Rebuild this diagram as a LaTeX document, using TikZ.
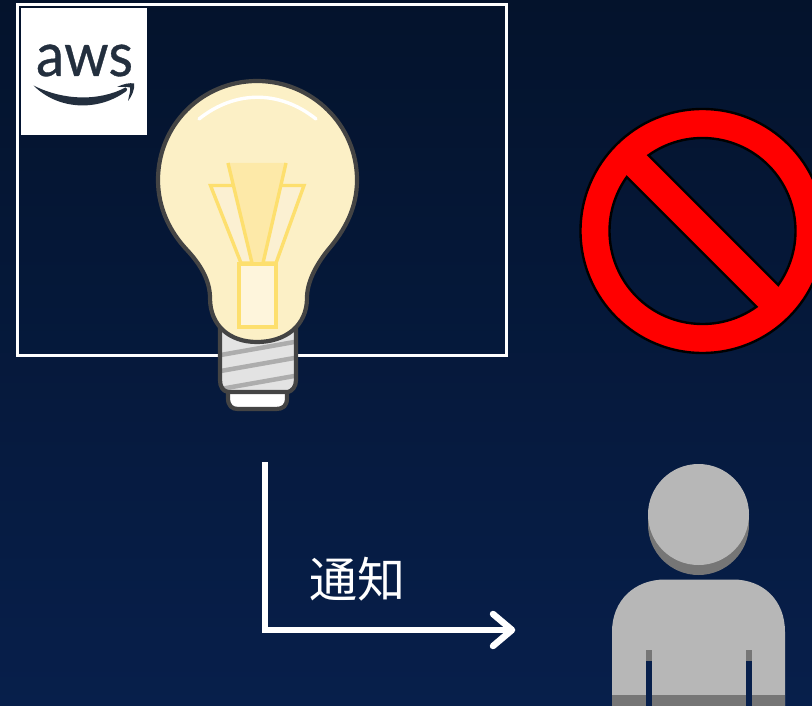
\documentclass[tikz,border=0pt]{standalone}
\usepackage{fontspec}
\newfontfamily\cjkfont{Noto Sans CJK JP}
\newfontfamily\logofont[FakeBold=0.6]{Lato}
\usetikzlibrary{arrows.meta}
\definecolor{bgtop}{HTML}{04132C}
\definecolor{bgmid}{HTML}{061B41}
\definecolor{bgbot}{HTML}{071F4B}
\definecolor{awsink}{HTML}{232F3E}
\definecolor{bulbfill}{HTML}{FCF0C6}
\definecolor{bulbedge}{HTML}{444444}
\definecolor{filedge}{HTML}{FDDF6E}
\definecolor{filmid}{HTML}{FDE9A8}
\definecolor{filside}{HTML}{FBF0D2}
\definecolor{filrect}{HTML}{FEF5DC}
\definecolor{personlight}{HTML}{B7B7B7}
\definecolor{persondark}{HTML}{767676}
\tikzset{
  bulbline/.style={draw=bulbedge,line width=4.2pt,line join=round},
  filline/.style={draw=filedge,line width=3.4pt,line join=miter},
  flow/.style={draw=white,line width=6pt,line join=miter},
  frameline/.style={draw=white,line width=3pt},
  label/.style={text=white,inner sep=0pt,font=\cjkfont\fontsize{48pt}{48pt}\selectfont},
}
\begin{document}
\begin{tikzpicture}[x=1pt,y=-1pt]
\useasboundingbox (0,0) rectangle (812,706);
\clip (0,0) rectangle (812,706);
\shade[top color=bgtop,middle color=bgmid,bottom color=bgbot] (0,0) rectangle (812,706);

% frame and logo
\draw[frameline] (17.5,5) rectangle (506.5,355);
\fill[white] (21,8) rectangle (147,135);
\node[inner sep=0pt,anchor=base,text=awsink,xscale=0.93,font=\logofont\fontsize{61pt}{61pt}\selectfont] (logo) at (84.5,76) {aws};
\fill[awsink] (33.5,85.5) .. controls (62,100) and (98,102) .. (125.5,87.5)
  .. controls (127,88) and (128,90) .. (126.5,91) .. controls (98,112) and (58,110) .. (33.5,85.5) -- cycle;
\fill[awsink] (117,87) .. controls (123,84) and (130,82.5) .. (134,83.5)
  .. controls (135,89) and (132,96) .. (128,101) .. controls (129,95) and (131,90) .. (130,87.5)
  .. controls (127,86.5) and (122,87) .. (117,87) -- cycle;

% bulb base
\draw[bulbline,fill=white] (228,388) -- (228,398) .. controls (228,406) and (232,409) .. (238,409)
  -- (276,409) .. controls (283,409) and (287,406) .. (287,398) -- (287,388) -- cycle;
\begin{scope}
\path[clip] (220,325) -- (296,325) -- (296,380) .. controls (296,387) and (292,391) .. (288,392)
  -- (228,392) .. controls (223,391) and (220,387) .. (220,380) -- cycle;
\fill[white!89!black] (215,320) rectangle (300,395);
\foreach \yy in {356,372,390} {
  \draw[draw=black!32,line width=4.5pt] (215,\yy) -- (300,\yy-15);
}
\end{scope}
\draw[bulbline] (220,325) -- (220,380) .. controls (220,387) and (223,391) .. (228,392)
  -- (288,392) .. controls (292,391) and (296,387) .. (296,380) -- (296,325);

% bulb glass
\draw[bulbline,fill=bulbfill] (257,81)
  .. controls (202,81) and (158,125) .. (158,180)
  .. controls (158,208) and (170,232) .. (187,250)
  .. controls (200,264) and (210,280) .. (210,298)
  .. controls (210,326) and (230,342) .. (257,342)
  .. controls (285,342) and (307,326) .. (307,298)
  .. controls (307,282) and (316,265) .. (328,250)
  .. controls (345,230) and (357,208) .. (357,180)
  .. controls (357,125) and (312,81) .. (257,81) -- cycle;
\draw[white,line width=3.4pt,line cap=round] (199,119) .. controls (235,90) and (280,90) .. (316,119);

% filament
\draw[filline,fill=filside] (232,185.5) -- (210.5,185.5) -- (241,263) -- (252,263);
\draw[filline,fill=filside] (282,185.5) -- (304,185.5) -- (276,263) -- (263,263);
\fill[filmid] (228,163) -- (286,163) -- (263,263) -- (252,263) -- cycle;
\draw[filline] (228,163) -- (252,263);
\draw[filline] (286,163) -- (263,263);
\draw[filline,fill=filrect] (239,264) rectangle (276,327);

% prohibition sign
\path[fill=red,draw=black,line width=2.4pt,even odd rule] (702.5,231) circle[radius=122]
  (702.5,231) ++(234.5:93) arc[start angle=234.5,end angle=395.5,radius=93] -- cycle
  (702.5,231) ++(54.5:93) arc[start angle=54.5,end angle=215.5,radius=93] -- cycle;

% person
\fill[persondark] (698.5,524.5) circle[radius=50.5];
\fill[personlight] (698.5,514.5) circle[radius=50.5];
\fill[personlight] (612,706) -- (612,632) .. controls (612,600) and (635,579.5) .. (665,579.5)
  -- (733,579.5) .. controls (763,579.5) and (785,600) .. (785,632) -- (785,706) -- cycle;
\fill[persondark] (612,695) rectangle (785,706);
\fill[persondark] (646,650) rectangle (652,661);
\fill[persondark] (746,650) rectangle (752,661);
\fill[bgbot] (646,661) rectangle (652,706);
\fill[bgbot] (746,661) rectangle (752,706);

% notification arrow
\coordinate (flowstart) at (265,462);
\coordinate (flowcorner) at (265,630);
\coordinate (flowend) at (512,630);
\draw[flow] (flowstart) -- (flowcorner) -- (flowend);
\coordinate (barbtop) at (493,614);
\coordinate (barbbot) at (493,646);
\draw[draw=white,line width=6.5pt,line cap=round,line join=round] (barbtop) -- (flowend) -- (barbbot);
\node[label] (notice) at (357,579) {通知};
\end{tikzpicture}
\end{document}
